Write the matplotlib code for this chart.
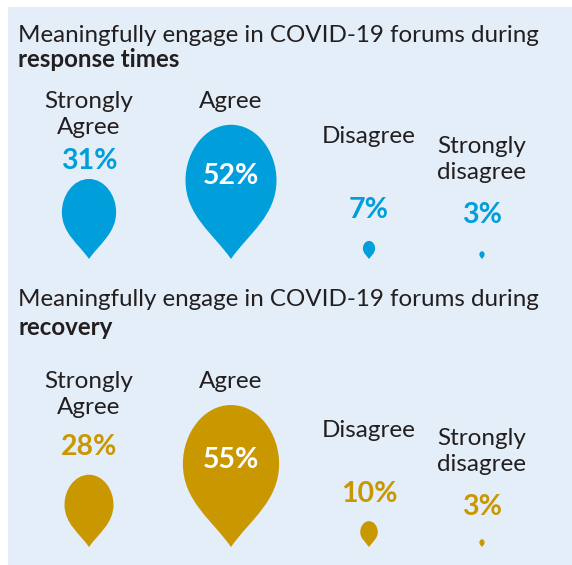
"""
Teardrop infographic - COVID-19 forum engagement (response vs recovery)
"""

import numpy as np
import matplotlib.pyplot as plt
from matplotlib.patches import Rectangle, PathPatch
from matplotlib.path import Path

# Dados
CATEGORIES = ['Strongly\nAgree', 'Agree', 'Disagree', 'Strongly\ndisagree']
RESPONSE_PCT = [31, 52, 7, 3]
RECOVERY_PCT = [28, 55, 10, 3]
TITLE_MAIN = 'Meaningfully engage in COVID-19 forums during'
TITLE_RESPONSE = 'response times'
TITLE_RECOVERY = 'recovery'

# Estilo
BG = '#E4EEF8'
TEXT = '#231F20'
BLUE = '#009EDB'
GOLD = '#C99700'
FONT = 'Lato'
PX_PER_PCT = 0.875      # raio (meia largura) da gota em px por ponto percentual

COL_X = [89, 231, 369, 482]

# contorno da gota em unidades de raio (x para a direita, y para cima, ponta em 0)
H, YW = 2.95, 1.73
DROP_VERTS = np.array([
    (0, 0),
    (0.38, 0.55), (1, 0.95), (1, YW),
    (1, YW + 0.62), (0.58, H), (0, H),
    (-0.58, H), (-1, YW + 0.62), (-1, YW),
    (-1, 0.95), (-0.38, 0.55), (0, 0),
    (0, 0),
])
DROP_CODES = [Path.MOVETO] + [Path.CURVE4] * 12 + [Path.CLOSEPOLY]


def teardrop(cx, tip_y, r):
    """Gota invertida com a ponta em (cx, tip_y); eixo y cresce para baixo"""
    verts = np.column_stack([cx + DROP_VERTS[:, 0] * r,
                             tip_y - DROP_VERTS[:, 1] * r])
    return Path(verts, DROP_CODES)


def draw_section(ax, values, color, subtitle, layout):
    ax.text(18, layout['title'][0], TITLE_MAIN, fontsize=17.4, family=FONT,
            color=TEXT, va='baseline', ha='left')
    ax.text(18, layout['title'][1], subtitle, fontsize=17.4, family=FONT,
            fontweight='bold', color=TEXT, va='baseline', ha='left')

    for i, (cat, val) in enumerate(zip(CATEGORIES, values)):
        x = COL_X[i]
        # rótulos (uma linha por vez)
        for j, line in enumerate(cat.split('\n')):
            ax.text(x, layout['labels'][i] + j * 26, line, fontsize=17.5,
                    family=FONT, color=TEXT, ha='center', va='baseline')

        r = val * PX_PER_PCT
        ax.add_patch(PathPatch(teardrop(x, layout['tip'], r),
                               facecolor=color, edgecolor='none'))

        inside = val > 40
        ax.text(x, layout['pct'][i], f'{val}%', family=FONT, fontweight='bold',
                fontsize=20.5,
                color='white' if inside else color,
                ha='center', va='baseline')


fig = plt.figure(figsize=(5.72, 5.65), dpi=100)
ax = fig.add_axes([0, 0, 1, 1])
ax.set_xlim(0, 572)
ax.set_ylim(565, 0)
ax.set_aspect('equal')
ax.axis('off')

ax.add_patch(Rectangle((8, 7), 570, 565, facecolor=BG, edgecolor='none'))

draw_section(ax, RESPONSE_PCT, BLUE, TITLE_RESPONSE, {
    'title': (42, 67),
    'labels': [108, 108, 143, 153],
    'pct': [169, 184, 218, 223],
    'tip': 259,
})
draw_section(ax, RECOVERY_PCT, GOLD, TITLE_RECOVERY, {
    'title': (306, 335),
    'labels': [388, 388, 437, 445],
    'pct': [455, 468, 502, 515],
    'tip': 547,
})

fig.savefig('out.png', dpi=100)
